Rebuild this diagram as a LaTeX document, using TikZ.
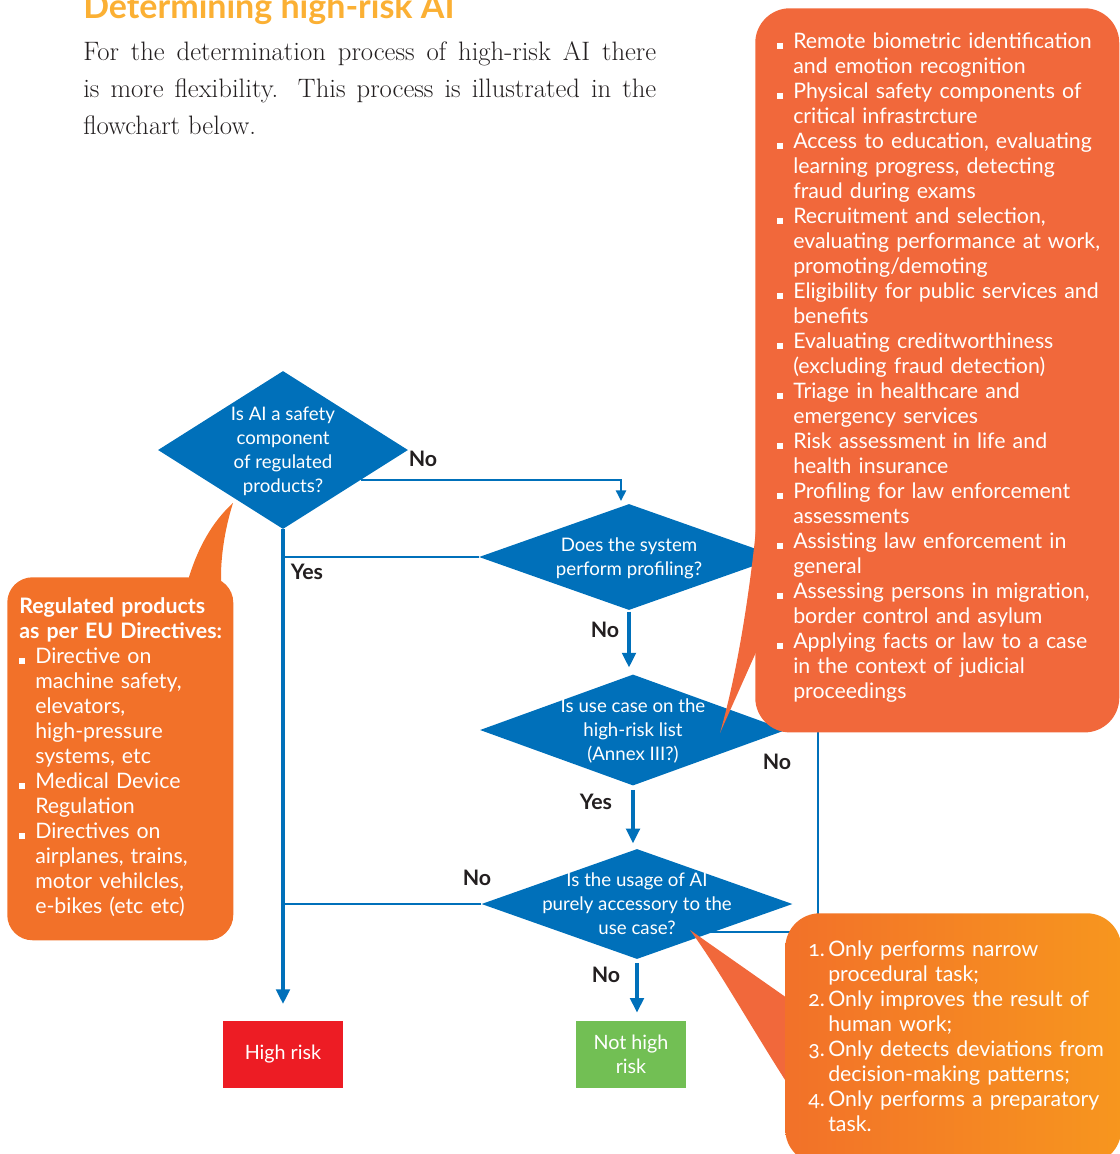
\documentclass[tikz,border=0pt]{standalone}
\usepackage{fontspec}
\setsansfont{Lato}
\renewcommand{\familydefault}{\sfdefault}
\usepackage{xcolor}
\usepackage{tikz}
\usetikzlibrary{shapes.geometric, arrows.meta, positioning, calc}

\definecolor{flowblue}{RGB}{0,112,186}
\definecolor{riskred}{RGB}{237,28,36}
\definecolor{safegreen}{RGB}{114,191,84}
\definecolor{calloutA}{RGB}{242,113,41}
\definecolor{calloutB}{RGB}{241,104,59}
\definecolor{calloutC}{RGB}{247,150,30}
\definecolor{titleamber}{RGB}{251,176,52}
\definecolor{inkdark}{RGB}{35,31,32}

\newcommand{\sqbullet}{\rule{4.5pt}{4.5pt}}
\newcommand{\qlines}[1]{\raisebox{-0.72em}{\smash{\begin{tabular}{@{}c@{}}#1\end{tabular}}}}

\tikzset{
    qbox/.style={diamond, aspect=2.8, fill=flowblue, inner sep=0pt,
                 text=white, font=\fontsize{14pt}{18pt}\selectfont},
    endbox/.style={rectangle, inner sep=0pt, text=white, align=center,
                   minimum height=50.25pt, font=\fontsize{14.8pt}{18pt}\selectfont},
    lbl/.style={inner sep=0pt, text=inkdark, font=\bfseries\fontsize{16pt}{18pt}\selectfont},
    bubble/.style={rectangle, anchor=north west, rounded corners=26pt,
                   text=white, align=left, font=\fontsize{16pt}{18.75pt}\selectfont},
    introtext/.style={anchor=north west, inner sep=0pt, align=left, text=inkdark,
                      font=\rmfamily\fontsize{20pt}{27.75pt}\selectfont},
    arr/.style={-{Triangle[width=10pt,length=11pt]}, line width=3pt, draw=flowblue},
    arrthin/.style={-{Triangle[width=7.5pt,length=8pt]}, line width=1.6pt, draw=flowblue},
    link/.style={line width=2.2pt, draw=flowblue},
    linkthin/.style={line width=1.6pt, draw=flowblue}
}

\begin{document}
\begin{tikzpicture}[x=0.75pt, y=-0.75pt]
\useasboundingbox (0,0) rectangle (1120,1154);
\clip (0,0) rectangle (1120,1154);

% ── Heading and intro ─────────────────────────────────────────────────
\node[anchor=base west, inner sep=0pt, text=titleamber,
      font=\bfseries\fontsize{25.5pt}{30pt}\selectfont] (title) at (83,18) {Determining high-risk AI};
\node[introtext] (intro) at (83,41)
  {\makebox[429.75pt][s]{For the determination process of high-risk AI there}\\
   \makebox[429.75pt][s]{is more flexibility. This process is illustrated in the}\\
   flowchart below.};

% ── Decisions ─────────────────────────────────────────────────────────
\node[qbox, minimum width=187.5pt, minimum height=118.5pt] at (283,450) (safety)
  {\qlines{Is AI a safety\\component\\of regulated\\products?}};
\node[qbox, minimum width=225pt, minimum height=79.5pt] at (629,557) (profiling)
  {\qlines{Does the system\\perform profiling?}};
\node[qbox, minimum width=229.5pt, minimum height=83.25pt] at (633,730) (annex)
  {\qlines{Is use case on the\\high-risk list\\(Annex III?)}};
\node[qbox, minimum width=233.25pt, minimum height=82.5pt] at (637,904) (accessory)
  {\qlines{Is the usage of AI\\purely accessory to the\\use case?}};

% ── Outcomes ──────────────────────────────────────────────────────────
\node[endbox, fill=riskred, minimum width=90pt] at (283,1054.5) (highrisk) {High risk};
\node[endbox, fill=safegreen, minimum width=82.5pt] at (631,1054.5) (nothighrisk) {Not high\\risk};

% ── Connectors ────────────────────────────────────────────────────────
\draw[arrthin, shorten >=2pt] (safety.-21) -| ([xshift=-6pt]profiling.north);
\draw[arr, shorten >=12.5pt] (safety.south) -- (highrisk.north);
\draw[link] (profiling.west) -- (profiling.west -| safety.south);
\draw[arr, shorten <=1pt, shorten >=5pt] (profiling.south) -- (profiling.south |- annex.north);
\draw[arr, shorten <=3pt, shorten >=4pt] (annex.south) -- (annex.south |- accessory.north);
\draw[link] (accessory.west) -- (accessory.west -| safety.south);
\draw[arr, shorten <=3pt, shorten >=6pt] (accessory.south) -- (accessory.south |- nothighrisk.north);
\coordinate (turn) at (818,932);
\draw[linkthin] (annex.east) -| (turn) -- (turn -| accessory.-26);

% ── Branch labels ─────────────────────────────────────────────────────
\node[lbl] at (423,459) (no1)  {No};
\node[lbl] at (307,572) (yes1) {Yes};
\node[lbl] at (605,630) (no2)  {No};
\node[lbl] at (777,762) (no3)  {No};
\node[lbl] at (596,802) (yes3) {Yes};
\node[lbl] at (477,878) (no4)  {No};
\node[lbl] at (606,975) (no5)  {No};

% ── Callout tails ─────────────────────────────────────────────────────
\fill[calloutA] (189,592) -- (189,577) .. controls (198,548) and (212,522) .. (233,503)
      .. controls (226,525) and (221,552) .. (221,577) -- (221,592) -- cycle;
\fill[calloutB] (772,520) -- (757,520) .. controls (750,590) and (738,670) .. (720,733)
      -- (757,650) -- (772,650) -- cycle;
\fill[calloutB] (690,930) -- (787,998) -- (802,998) -- (802,1083) -- (787,1083)
      .. controls (748,1022) and (718,968) .. (690,930) -- cycle;

% ── Callouts ──────────────────────────────────────────────────────────
\node[bubble, fill=calloutA, rounded corners=19pt, inner xsep=9pt, inner ysep=14.25pt,
      text width=151.5pt] at (7,577) (regs)
  {\begin{tabular}{@{}p{12pt}@{}l@{}}
   \multicolumn{2}{@{}l@{}}{\bfseries Regulated products}\\
   \multicolumn{2}{@{}l@{}}{\bfseries as per EU Directives:}\\
   \sqbullet & Directive on\\
             & machine safety,\\
             & elevators,\\
             & high-pressure\\
             & systems, etc\\
   \sqbullet & Medical Device\\
             & Regulation\\
   \sqbullet & Directives on\\
             & airplanes, trains,\\
             & motor vehilcles,\\
             & e-bikes (etc etc)
   \end{tabular}};

\node[bubble, fill=calloutB, inner xsep=16.5pt, inner ysep=17.3pt,
      text width=240pt] at (755,8) (annexlist)
  {\vspace*{2.25pt}%
   \begin{tabular}{@{}p{12pt}@{}l@{}}
   \sqbullet & Remote biometric identification\\
             & and emotion recognition\\
   \sqbullet & Physical safety components of\\
             & critical infrastrcture\\
   \sqbullet & Access to education, evaluating\\
             & learning progress, detecting\\
             & fraud during exams\\
   \sqbullet & Recruitment and selection,\\
             & evaluating performance at work,\\
             & promoting/demoting\\
   \sqbullet & Eligibility for public services and\\
             & benefits\\
   \sqbullet & Evaluating creditworthiness\\
             & (excluding fraud detection)\\
   \sqbullet & Triage in healthcare and\\
             & emergency services\\
   \sqbullet & Risk assessment in life and\\
             & health insurance\\
   \sqbullet & Profiling for law enforcement\\
             & assessments\\
   \sqbullet & Assisting law enforcement in\\
             & general\\
   \sqbullet & Assessing persons in migration,\\
             & border control and asylum\\
   \sqbullet & Applying facts or law to a case\\
             & in the context of judicial\\
             & proceedings
   \end{tabular}};

\node[bubble, left color=calloutA, right color=calloutC, inner xsep=17.25pt, inner ysep=19pt,
      text width=217.5pt] at (785,913) (exemptions)
  {\addfontfeature{Numbers=OldStyle}%
   \begin{tabular}{@{}p{15pt}@{}l@{}}
   1. & Only performs narrow\\
      & procedural task;\\
   2. & Only improves the result of\\
      & human work;\\
   3. & Only detects deviations from\\
      & decision-making patterns;\\
   4. & Only performs a preparatory\\
      & task.
   \end{tabular}};
\end{tikzpicture}
\end{document}
